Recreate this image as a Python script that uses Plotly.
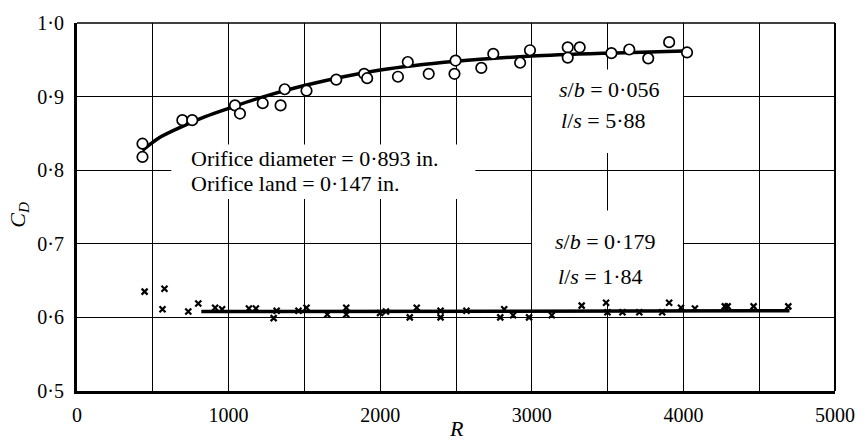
import plotly.graph_objects as go

# ---- data ----
circ_R = [432, 432, 695, 760, 1042, 1075, 1225, 1343, 1370, 1514, 1710, 1894, 1914, 2117,
          2182, 2320, 2497, 2490, 2667, 2746, 2923, 2988, 3237, 3316, 3237, 3525, 3643,
          3768, 3906, 4024]
circ_C = [0.836, 0.818, 0.868, 0.868, 0.888, 0.877, 0.891, 0.888, 0.910, 0.908, 0.923,
          0.931, 0.925, 0.927, 0.947, 0.931, 0.949, 0.931, 0.939, 0.958, 0.946, 0.963,
          0.967, 0.967, 0.953, 0.959, 0.964, 0.952, 0.974, 0.960]

curve_R = [432, 550, 700, 850, 1000, 1200, 1500, 2000, 2500, 3000, 3500, 4000]
curve_C = [0.827, 0.845, 0.860, 0.873, 0.884, 0.898, 0.915, 0.936, 0.948, 0.955, 0.959, 0.962]

cross_R = [446, 577, 564, 734, 800, 911, 957, 1134, 1180, 1297, 1317, 1461, 1514, 1651,
           1776, 1776, 1999, 2038, 2195, 2241, 2398, 2398, 2569, 2792, 2818, 2877, 2982,
           3132, 3329, 3490, 3499, 3598, 3709, 3860, 3906, 3984, 4076, 4273, 4292, 4463,
           4692]
cross_C = [0.635, 0.639, 0.611, 0.608, 0.619, 0.613, 0.611, 0.612, 0.612, 0.599, 0.609,
           0.609, 0.613, 0.604, 0.613, 0.604, 0.606, 0.608, 0.600, 0.613, 0.609, 0.600,
           0.609, 0.600, 0.611, 0.603, 0.600, 0.603, 0.616, 0.620, 0.607, 0.607, 0.607,
           0.607, 0.620, 0.613, 0.612, 0.615, 0.615, 0.615, 0.615]

line2_R = [820, 4700]
line2_C = [0.608, 0.609]

x_tickvals = [0, 1000, 2000, 3000, 4000, 5000]
x_ticktext = ["0", "1000", "2000", "3000", "4000", "5000"]
x_minorvals = [500, 1500, 2500, 3500, 4500]
y_tickvals = [0.5, 0.6, 0.7, 0.8, 0.9, 1.0]
y_ticktext = ["0·5", "0·6", "0·7", "0·8", "0·9", "1·0"]

FONT = "Liberation Serif"

fig = go.Figure()
fig.add_trace(go.Scatter(x=curve_R, y=curve_C, mode="lines", line=dict(color="black", width=3.5, shape="spline", smoothing=0.8),
                         hoverinfo="skip", showlegend=False))
fig.add_trace(go.Scatter(x=line2_R, y=line2_C, mode="lines", line=dict(color="black", width=3.5),
                         hoverinfo="skip", showlegend=False))
fig.add_trace(go.Scatter(x=circ_R, y=circ_C, mode="markers",
                         marker=dict(symbol="circle", size=10.5, color="white", line=dict(color="black", width=1.7)),
                         showlegend=False))
fig.add_trace(go.Scatter(x=cross_R, y=cross_C, mode="markers",
                         marker=dict(symbol="x-thin-open", size=6, color="black", line=dict(color="black", width=2.2)),
                         showlegend=False))

# white boxes that interrupt the grid behind the labels
boxes = [(622, 2628, 0.761, 0.835), (3001, 3997, 0.8235, 0.9367), (3001, 3997, 0.620, 0.7454)]
for x0, x1, y0, y1 in boxes:
    fig.add_shape(type="rect", xref="x", yref="y", x0=x0, x1=x1, y0=y0, y1=y1,
                  fillcolor="white", line=dict(width=0), layer="between")

# frame top and right
fig.add_shape(type="line", xref="x domain", yref="y domain", x0=0, x1=1, y0=1, y1=1,
              line=dict(color="black", width=1.5))
fig.add_shape(type="line", xref="x domain", yref="y domain", x0=1, x1=1, y0=0, y1=1,
              line=dict(color="black", width=2))

anns = [
    (740, 0.8155, "Orifice diameter = 0·893 in."),
    (740, 0.7825, "Orifice land = 0·147 in."),
    (3165, 0.9103, "<i>s</i>/<i>b</i> = 0·056"),
    (3178, 0.868, "<i>l</i>/<i>s</i> = 5·88"),
    (3139, 0.7032, "<i>s</i>/<i>b</i> = 0·179"),
    (3159, 0.6557, "<i>l</i>/<i>s</i> = 1·84"),
]
for x, y, t in anns:
    fig.add_annotation(x=x, y=y, xref="x", yref="y", text=t, showarrow=False,
                       xanchor="left", yanchor="middle", font=dict(family=FONT, size=22, color="black"))

# axis titles
fig.add_annotation(x=0.5, y=-0.103, xref="x domain", yref="y domain", text="<i>R</i>", showarrow=False,
                   xanchor="center", yanchor="middle", font=dict(family=FONT, size=22, color="black"))
fig.add_annotation(x=-0.077, y=0.478, xref="x domain", yref="y domain", text="<i>C</i><sub><i>D</i></sub>",
                   showarrow=False, textangle=-90, xanchor="center", yanchor="middle",
                   font=dict(family=FONT, size=22, color="black"))

fig.update_layout(
    width=867, height=446,
    margin=dict(l=77, r=27, t=12, b=55),
    paper_bgcolor="white", plot_bgcolor="white",
    font=dict(family=FONT, size=20, color="black"),
    xaxis=dict(range=[0, 5000], tickvals=x_tickvals, ticktext=x_ticktext,
               showgrid=True, gridcolor="black", gridwidth=1,
               minor=dict(tickvals=x_minorvals, showgrid=True, gridcolor="black", gridwidth=1, ticks=""),
               showline=True, linecolor="black", linewidth=3, zeroline=False,
               ticks="", ticklabelstandoff=4),
    yaxis=dict(range=[0.5, 1.0], tickvals=y_tickvals, ticktext=y_ticktext,
               showgrid=True, gridcolor="black", gridwidth=1,
               showline=True, linecolor="black", linewidth=3, zeroline=False,
               ticks="", ticklabelstandoff=6),
)

fig.write_html("out.html")
